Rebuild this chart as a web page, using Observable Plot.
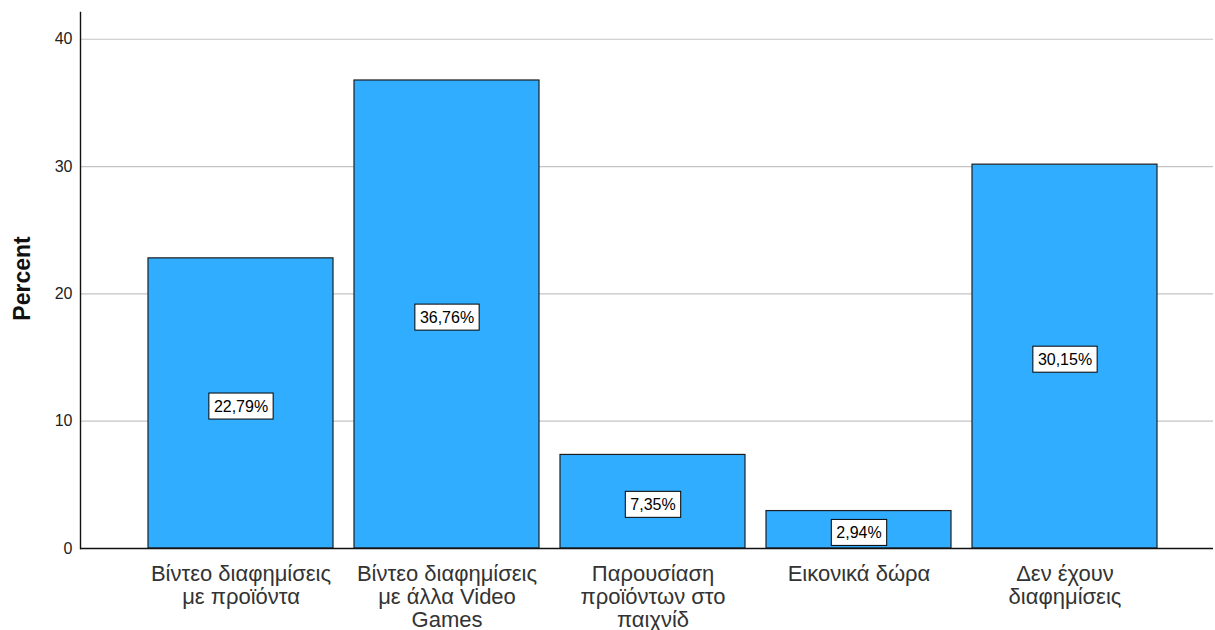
<!DOCTYPE html>
<html>
<head>
<meta charset="utf-8">
<script src="https://cdn.jsdelivr.net/npm/d3@7"></script>
<script src="https://cdn.jsdelivr.net/npm/@observablehq/plot@0.6"></script>
<style>
  html, body { margin: 0; padding: 0; background: #fff; }
  #chart svg { display: block; font-family: "Liberation Sans", Arial, sans-serif; }
</style>
</head>
<body>
<div id="chart"></div>
<script>
// Where players see advertising inside video games (percent of respondents)
const categories = [
  "Βίντεο διαφημίσεις με προϊόντα",
  "Βίντεο διαφημίσεις με άλλα Video Games",
  "Παρουσίαση προϊόντων στο παιχνίδ",
  "Εικονικά δώρα",
  "Δεν έχουν διαφημίσεις"
];
// Wrapped versions of the category names for the x axis
const categoryLabels = [
  "Βίντεο διαφημίσεις\nμε προϊόντα",
  "Βίντεο διαφημίσεις\nμε άλλα Video\nGames",
  "Παρουσίαση\nπροϊόντων στο\nπαιχνίδ",
  "Εικονικά δώρα",
  "Δεν έχουν\nδιαφημίσεις"
];
const percents = [22.79, 36.76, 7.35, 2.94, 30.15];
const yTicks = [0, 10, 20, 30, 40];

const rows = categories.map((c, i) => ({category: c, label: categoryLabels[i], percent: percents[i]}));
const fmt = v => v.toFixed(2).replace(".", ",") + "%";

const chart = Plot.plot({
  width: 1215,
  height: 630,
  marginLeft: 80,
  marginRight: 2,
  marginTop: 12,
  marginBottom: 82,
  style: {fontFamily: "'Liberation Sans', Arial, sans-serif", background: "#fff"},
  x: {type: "band", domain: categories, padding: 0.1, insetLeft: 47, insetRight: 34, axis: null},
  y: {domain: [0, 42.1], axis: null},
  marks: [
    Plot.ruleY(yTicks.filter(d => d > 0), {stroke: "#c4c4c4", strokeWidth: 1.2}),
    Plot.axisY({ticks: yTicks, tickSize: 0, tickPadding: 8, fontSize: 16, fill: "#222", label: null}),
    Plot.frame({anchor: "left", stroke: "#111", strokeWidth: 1.4}),
    Plot.barY(rows, {x: "category", y: "percent", fill: "#31adff", stroke: "#1e1e1e", strokeWidth: 1.2}),
    Plot.ruleY([0], {stroke: "#111", strokeWidth: 1.4}),
    Plot.text(rows, {
      x: "category", y: d => d.percent / 2, text: d => fmt(d.percent),
      fontSize: 16, fill: "#000", dy: 3, className: "value-label"
    }),
    Plot.text(rows, {
      x: "category", text: "label", frameAnchor: "bottom", lineAnchor: "top",
      dy: 16, fontSize: 22, lineHeight: 1.04, fill: "#333"
    }),
    Plot.text(["Percent"], {
      text: d => d, frameAnchor: "left", textAnchor: "middle", rotate: -90, dx: -58, dy: -2,
      fontSize: 23, fontWeight: "bold", fill: "#111"
    })
  ]
});

document.getElementById("chart").appendChild(chart);

// White boxed backgrounds behind the value labels
chart.querySelectorAll("g.value-label text").forEach(t => {
  const b = t.getBBox();
  const padX = 5, padY = 4.5;
  const rect = document.createElementNS("http://www.w3.org/2000/svg", "rect");
  rect.setAttribute("x", b.x - padX);
  rect.setAttribute("y", b.y - padY);
  rect.setAttribute("width", b.width + 2 * padX);
  rect.setAttribute("height", b.height + 2 * padY);
  rect.setAttribute("fill", "#fff");
  rect.setAttribute("stroke", "#000");
  rect.setAttribute("stroke-width", 1);
  const tr = t.getAttribute("transform");
  if (tr) rect.setAttribute("transform", tr);
  t.parentNode.insertBefore(rect, t);
});
</script>
</body>
</html>
